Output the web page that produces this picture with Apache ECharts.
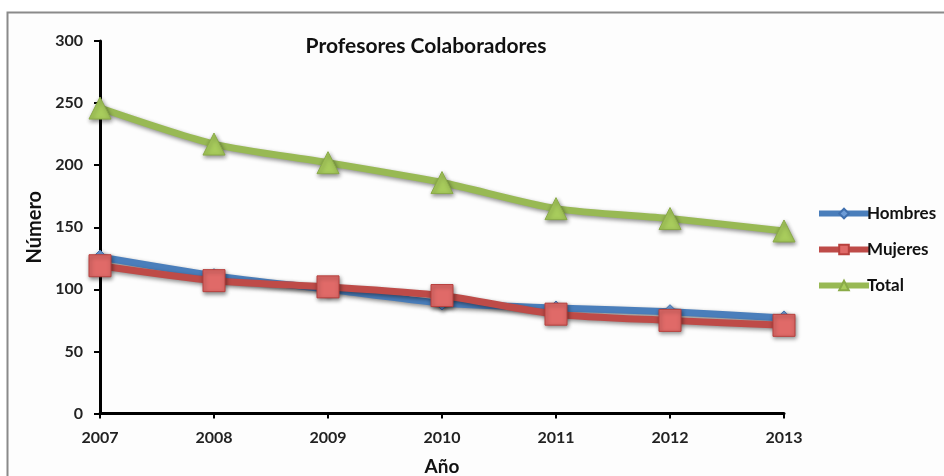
<!DOCTYPE html>
<html><head><meta charset="utf-8">
<script src="https://cdn.jsdelivr.net/npm/echarts@6/dist/echarts.min.js"></script>
<style>html,body{margin:0;padding:0;background:#fff}#c{width:944px;height:476px}</style>
</head><body><div id="c"></div>
<script>
const years = ['2007','2008','2009','2010','2011','2012','2013'];
const hombres = [126, 111, 100, 89, 85, 82, 77];
const mujeres = [119, 107, 102, 95, 80, 75, 71];
const total = [246, 217, 202, 186, 165, 157, 147];
const yTicks = [0, 50, 100, 150, 200, 250, 300];
const titleText = 'Profesores Colaboradores';
const xName = 'Año';
const yName = 'Número';

const FONT = 'Lato';
const chart = echarts.init(document.getElementById('c'), null, {renderer: 'canvas'});
const shadow = {shadowBlur: 4, shadowColor: 'rgba(0,0,0,0.45)', shadowOffsetY: 2, shadowOffsetX: 1};
chart.setOption({
  animation: false,
  backgroundColor: '#fff',
  graphic: [{type: 'rect', shape: {x: 7.5, y: 12.5, width: 1000, height: 600}, style: {fill: '#fdfdfd', stroke: '#8a8a8a', lineWidth: 2}, z: -10}],
  title: {text: titleText, left: 421, top: 31, textAlign: 'center',
    textStyle: {fontFamily: FONT, fontSize: 21, fontWeight: 'bold', color: '#111'}},
  grid: {left: 100, right: 160, top: 41, bottom: 62.5, containLabel: false, outerBoundsMode: 'none'},
  legend: {orient: 'vertical', left: 811, top: 200, itemWidth: 50, itemHeight: 12, itemGap: 19,
    lineStyle: {width: 6},
    textStyle: {fontFamily: FONT, fontSize: 17, fontWeight: 'bold', color: '#111', padding: [0,0,0,-7]},
    data: ['Hombres', 'Mujeres', 'Total']},
  xAxis: {type: 'category', data: years, boundaryGap: false, name: xName, nameLocation: 'middle', nameGap: 44,
    nameTextStyle: {fontFamily: FONT, fontSize: 19, fontWeight: 'bold', color: '#111'},
    axisLine: {lineStyle: {color: '#000', width: 3}},
    axisTick: {show: true, length: 5, lineStyle: {color: '#000', width: 2}},
    axisLabel: {fontFamily: FONT, fontSize: 16, fontWeight: 'bold', color: '#222', margin: 16},
    splitLine: {show: false}},
  yAxis: {type: 'value', min: yTicks[0], max: yTicks[yTicks.length-1], interval: 50, name: yName, nameLocation: 'middle', nameGap: 54,
    nameTextStyle: {fontFamily: FONT, fontSize: 20, fontWeight: 'bold', color: '#111'},
    axisLine: {show: true, lineStyle: {color: '#000', width: 3}},
    axisTick: {show: true, length: 6, lineStyle: {color: '#000', width: 2}},
    axisLabel: {fontFamily: FONT, fontSize: 16, fontWeight: 'bold', color: '#222', margin: 17},
    splitLine: {show: false}},
  series: [
    {name: 'Hombres', type: 'line', data: hombres, smooth: 0.25, symbol: 'diamond', symbolSize: 14,
      lineStyle: {color: '#4a7ebb', width: 7, ...shadow},
      itemStyle: {color: '#6d9bd6', borderColor: '#3f6fae', borderWidth: 1, ...shadow}},
    {name: 'Mujeres', type: 'line', data: mujeres, smooth: 0.25, symbol: 'rect', symbolSize: 22,
      lineStyle: {color: '#be4b48', width: 7, ...shadow},
      itemStyle: {color: '#e06a68', borderColor: '#b8413e', borderWidth: 1, ...shadow}},
    {name: 'Total', type: 'line', data: total, smooth: 0.25, symbol: 'triangle', symbolSize: 22,
      lineStyle: {color: '#98b954', width: 7, ...shadow},
      itemStyle: {color: '#a8cc5c', borderColor: '#8aab48', borderWidth: 1, ...shadow}}
  ]
});
</script></body></html>
